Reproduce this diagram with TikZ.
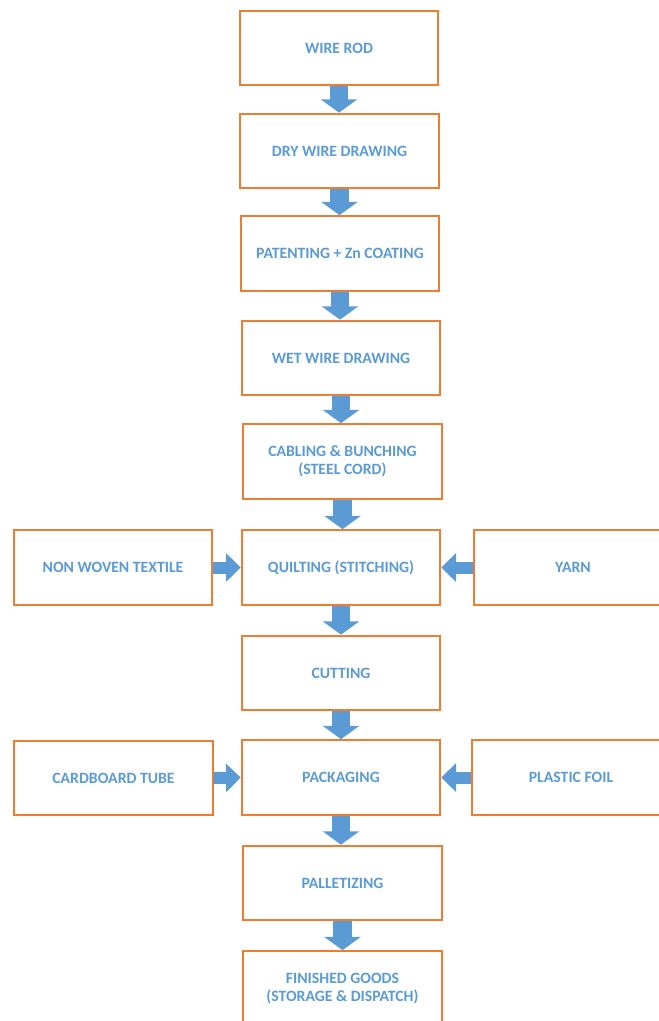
\documentclass[tikz,border=0pt]{standalone}
\usepackage{fontspec}
\setmainfont{Carlito}
\usepackage{tikz}
\usetikzlibrary{arrows.meta}
\definecolor{boxorange}{HTML}{ED7D31}
\definecolor{textblue}{HTML}{5B9BD5}

\begin{document}
\begin{tikzpicture}[x=0.75pt,y=0.75pt,yscale=-1,xscale=1,
  stepbox/.style={draw=boxorange,line width=1.5pt,fill=white,minimum width=149pt,minimum height=56pt,
    align=center,inner sep=0.75pt,text=textblue,font=\fontsize{11.8}{13.5}\selectfont\bfseries},
  downarrow/.style={draw=textblue,line width=14pt,-{Triangle[width=27pt,length=10pt]}},
  sidearrow/.style={draw=textblue,line width=9pt,-{Triangle[width=21pt,length=11pt]}}]
\useasboundingbox (0,0) rectangle (659,1021);

% Main column
\node [stepbox] (wire) at (339,48) {WIRE ROD};
\node [stepbox] (dry) at (339.5,151) {DRY WIRE DRAWING};
\node [stepbox] (patent) at (340,253.5) {PATENTING + Zn COATING};
\node [stepbox] (wet) at (341,358) {WET WIRE DRAWING};
\node [stepbox] (cabling) at (342.5,461.5) {CABLING \& BUNCHING\\(STEEL CORD)};
\node [stepbox] (quilt) at (341,567.5) {QUILTING (STITCHING)};
\node [stepbox] (cut) at (341,673) {CUTTING};
\node [stepbox] (pack) at (341,777.5) {PACKAGING};
\node [stepbox] (pallet) at (342.5,883) {PALLETIZING};
\node [stepbox] (finished) at (342.5,988.5) {FINISHED GOODS\\(STORAGE \& DISPATCH)};

% Side inputs
\node [stepbox] (nonwoven) at (113,567.5) {NON WOVEN TEXTILE};
\node [stepbox] (yarn) at (573,567.5) {YARN};
\node [stepbox] (cardboard) at (113.5,778) {CARDBOARD TUBE};
\node [stepbox] (foil) at (571,777.5) {PLASTIC FOIL};

% Block arrows down
\draw [downarrow] (wire.south) -- (wire.south |- dry.north);
\draw [downarrow] (dry.south) -- (dry.south |- patent.north);
\draw [downarrow] (patent.south) -- (patent.south |- wet.north);
\draw [downarrow] (wet.south) -- (wet.south |- cabling.north);
\draw [downarrow] (cabling.south) -- (cabling.south |- quilt.north);
\draw [downarrow] (quilt.south) -- (quilt.south |- cut.north);
\draw [downarrow] (cut.south) -- (cut.south |- pack.north);
\draw [downarrow] (pack.south) -- (pack.south |- pallet.north);
\draw [downarrow] (pallet.south) -- (pallet.south |- finished.north);

% Block arrows in from the sides
\draw [sidearrow] (nonwoven.east) -- (quilt.west);
\draw [sidearrow] (yarn.west) -- (quilt.east);
\draw [sidearrow] (cardboard.east) -- (pack.west);
\draw [sidearrow] (foil.west) -- (pack.east);

\end{tikzpicture}
\end{document}
